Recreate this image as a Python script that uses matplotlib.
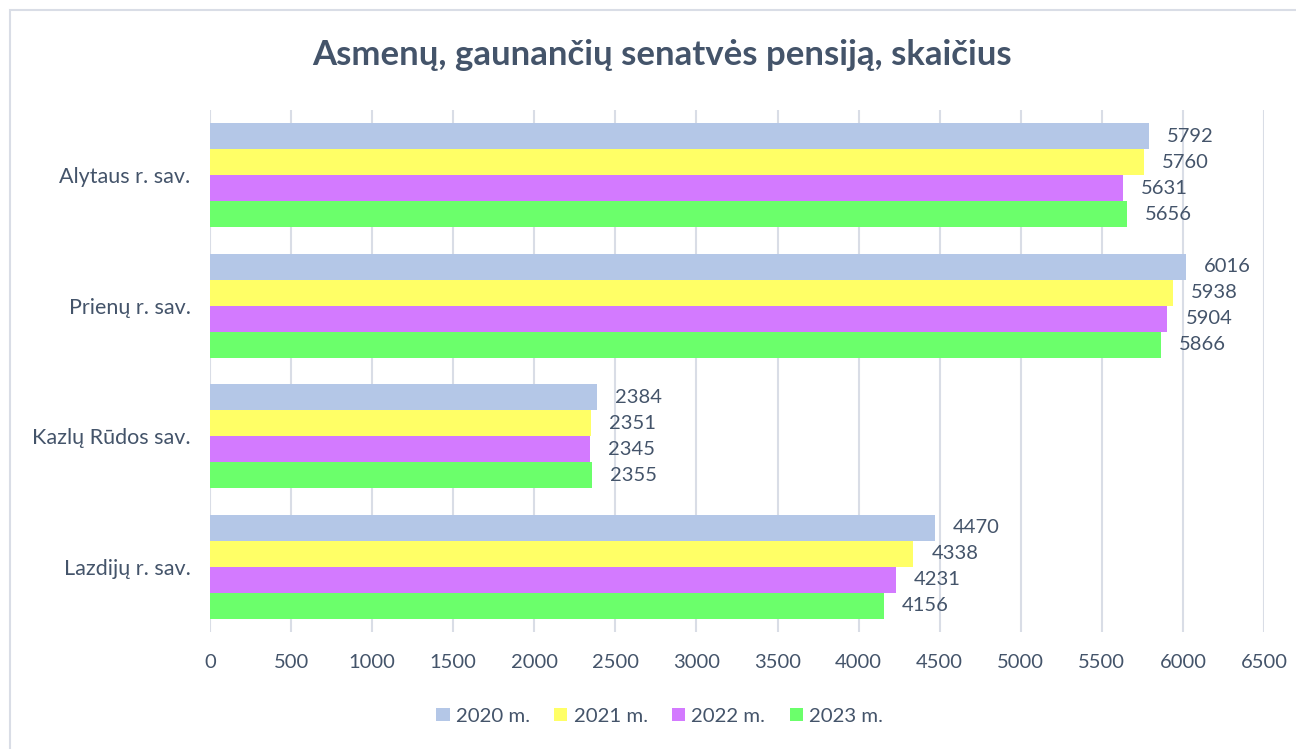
import matplotlib.pyplot as plt
from matplotlib.patches import Rectangle
import numpy as np

plt.rcParams['font.family'] = ['Lato', 'DejaVu Sans']

# data (top to bottom)
regions = ['Alytaus r. sav.', 'Prienų r. sav.', 'Kazlų Rūdos sav.', 'Lazdijų r. sav.']
years = ['2020 m.', '2021 m.', '2022 m.', '2023 m.']
values_2020 = [5792, 6016, 2384, 4470]
values_2021 = [5760, 5938, 2351, 4338]
values_2022 = [5631, 5904, 2345, 4231]
values_2023 = [5656, 5866, 2355, 4156]
colors = ['#B4C7E7', '#FFFF66', '#D37AFF', '#6BFF6B']
xticks = list(range(0, 7000, 500))

text_color = '#44546A'
grid_color = '#D9DDE6'

fig = plt.figure(figsize=(12.96, 7.49), dpi=100)
ax = fig.add_axes([210 / 1296, 1 - 632 / 749, 1054 / 1296, 522 / 749])

# outer chart border
fig.patches.append(Rectangle((10 / 1296, -0.1), 1.2, (1 - 10 / 749) + 0.1,
                             transform=fig.transFigure, fill=False,
                             edgecolor=grid_color, linewidth=1.5))

series = [values_2020, values_2021, values_2022, values_2023]
bar_h = 0.2
centers = np.arange(len(regions))
for i, (vals, col, lab) in enumerate(zip(series, colors, years)):
    ypos = centers - 0.3 + i * bar_h
    ax.barh(ypos, vals, height=bar_h, color=col, label=lab, zorder=3)
    for y, v in zip(ypos, vals):
        ax.annotate(str(v), (v, y), xytext=(13, 0), textcoords='offset points',
                    ha='left', va='center', fontsize=14.5, color=text_color)

ax.set_xlim(0, 6500)
ax.set_ylim(len(regions) - 0.5, -0.5)
ax.set_xticks(xticks)
ax.set_yticks(centers)
ax.set_yticklabels(regions, fontsize=15.5)
ax.tick_params(axis='both', length=0, labelcolor=text_color)
ax.tick_params(axis='x', pad=16, labelsize=14.5)
ax.tick_params(axis='y', pad=14)
ax.grid(axis='x', color=grid_color, linewidth=1.5, zorder=0)
for s in ax.spines.values():
    s.set_visible(False)

fig.text(0.511, 1 - 55 / 749, 'Asmenų, gaunančių senatvės pensiją, skaičius',
         ha='center', va='center', fontsize=25, fontweight='bold', color=text_color)

fig.legend(loc='center', bbox_to_anchor=(0.509, 1 - 716 / 749), ncol=4,
           frameon=False, fontsize=14.7, labelcolor=text_color,
           handlelength=0.65, handleheight=0.65, handletextpad=0.3, columnspacing=1.2)

fig.savefig('out.png', dpi=100)
